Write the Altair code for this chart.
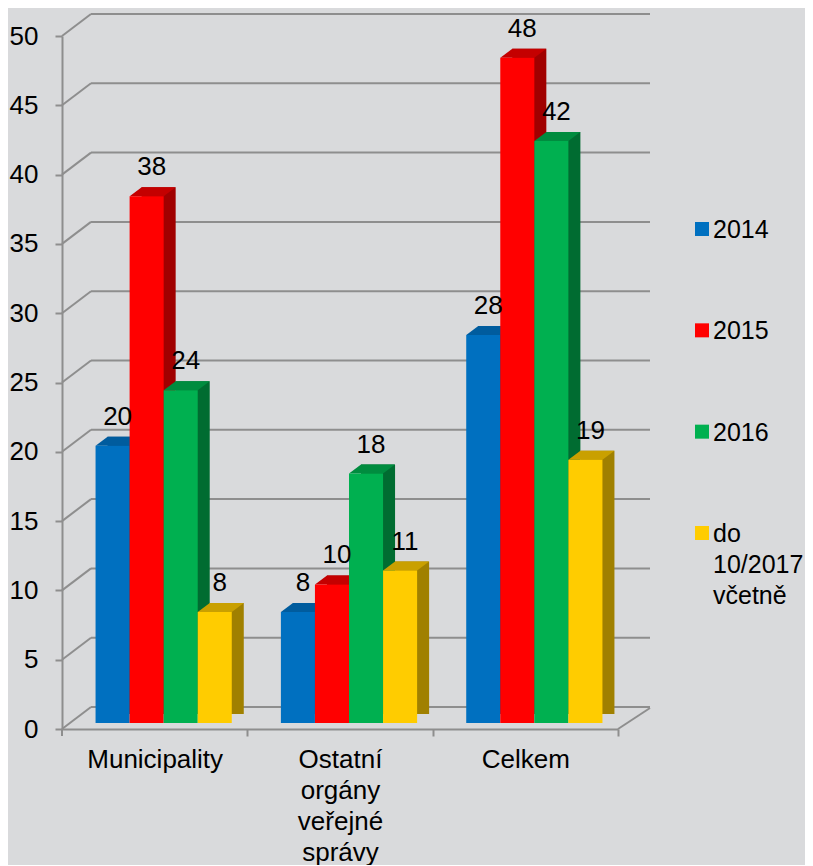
import altair as alt
import pandas as pd

# ---- data ----
categories = ["Municipality", "Ostatní orgány veřejné správy", "Celkem"]
series = ["2014", "2015", "2016", "do 10/2017 včetně"]
v2014 = [20, 8, 28]
v2015 = [38, 10, 48]
v2016 = [24, 18, 42]
v2017 = [8, 11, 19]
y_ticks = [0, 5, 10, 15, 20, 25, 30, 35, 40, 45, 50]

# ---- styles ----
front_colors = ["#0070c0", "#ff0000", "#00b050", "#ffcc00"]
top_colors = ["#005c9e", "#c40000", "#008c3f", "#c9a000"]
side_colors = ["#004b86", "#a00000", "#006c31", "#a08000"]
FONT = "Liberation Sans"
GRID = "#8e8e8e"
BG = "#d9dadc"
W, H = 556, 693
DX, DY = 29, -22   # depth of the walls
BX, BY = 9, -6     # bars sit a little back
SX, SY = 12, -9    # depth of each bar
P_IN, P_OUT = 0.265, 0.1325
STEP = W / 3
BAND = STEP * (1 - P_IN)   # width of one category group

rows = []
for s, vals in zip(series, [v2014, v2015, v2016, v2017]):
    for c, v in zip(categories, vals):
        rows.append({"category": c, "series": s, "value": v})
df = pd.DataFrame(rows)
grid_df = pd.DataFrame({"v": y_ticks})
legend_df = pd.DataFrame({"series": series})

y_scale = alt.Scale(domain=[0, 50])
x_scale = alt.Scale(paddingInner=P_IN, paddingOuter=P_OUT)


def xo_band(shift):
    return alt.XOffset("series:N", sort=series,
                       scale=alt.Scale(type="band", paddingInner=0, paddingOuter=0,
                                       range=[shift, shift + BAND]))


def xo_point(shift):
    return alt.XOffset("series:N", sort=series,
                       scale=alt.Scale(type="point", padding=0.5, range=[shift, shift + BAND]))


y_axis = alt.Axis(values=y_ticks, title=None, grid=False, labelFont=FONT, labelFontSize=26,
                  labelColor="black", labelPadding=17, tickSize=7, tickWidth=2, tickColor=GRID,
                  domainColor=GRID, domainWidth=2)
x_axis = alt.Axis(title=None, labelAngle=0, labelExpr="split(datum.label, ' ')", labelFont=FONT,
                  labelFontSize=26, labelColor="black", labelLineHeight=31, labelPadding=10,
                  tickOffset=STEP / 2, labelOffset=-STEP / 2, tickSize=7, tickWidth=2, tickColor=GRID,
                  domainColor=GRID, domainWidth=2, labelOverlap=False)

base_grid = alt.Chart(grid_df)

back_grid = base_grid.mark_rule(color=GRID, strokeWidth=2, yOffset=DY).encode(
    x=alt.value(DX), x2=alt.value(W + 32),
    y=alt.Y("v:Q", scale=y_scale, axis=y_axis),
)
left_wall = base_grid.mark_rule(color=GRID, strokeWidth=2, y2Offset=DY).encode(
    x=alt.value(0), x2=alt.value(DX),
    y=alt.Y("v:Q", scale=y_scale, axis=None),
    y2=alt.Y2("v"),
)
floor_right = base_grid.transform_filter("datum.v == 0").mark_rule(
    color=GRID, strokeWidth=2, y2Offset=-21).encode(
    x=alt.value(W), x2=alt.value(W + 32),
    y=alt.Y("v:Q", scale=y_scale, axis=None),
    y2=alt.Y2("v"),
)
corner_tick = base_grid.transform_filter("datum.v == 0").mark_rule(
    color=GRID, strokeWidth=2, y2Offset=7).encode(
    x=alt.value(0),
    y=alt.Y("v:Q", scale=y_scale, axis=None),
    y2=alt.Y2("v"),
)

base = alt.Chart(df)
side = base.mark_bar(yOffset=BY + SY, y2Offset=BY + SY).encode(
    x=alt.X("category:N", sort=categories, scale=x_scale, axis=x_axis),
    xOffset=xo_band(BX + SX),
    y=alt.Y("value:Q", scale=y_scale, axis=None),
    color=alt.Color("series:N", sort=series, scale=alt.Scale(domain=series, range=side_colors), legend=None),
)
top = base.mark_point(shape="M-17,0 L17,0 L29,-9 L-5,-9 Z", size=4, filled=True, opacity=1,
                      strokeWidth=0, yOffset=BY).encode(
    x=alt.X("category:N", sort=categories, scale=x_scale, axis=x_axis),
    xOffset=xo_point(BX),
    y=alt.Y("value:Q", scale=y_scale, axis=None),
    color=alt.Color("series:N", sort=series, scale=alt.Scale(domain=series, range=top_colors), legend=None),
)
front = base.mark_bar(yOffset=BY, y2Offset=BY).encode(
    x=alt.X("category:N", sort=categories, scale=x_scale, axis=x_axis),
    xOffset=xo_band(BX),
    y=alt.Y("value:Q", scale=y_scale, axis=None),
    color=alt.Color("series:N", sort=series, scale=alt.Scale(domain=series, range=front_colors), legend=None),
)
labels = base.mark_text(font=FONT, fontSize=26, color="black", baseline="alphabetic",
                        dx=5, dy=-27).encode(
    x=alt.X("category:N", sort=categories, scale=x_scale, axis=x_axis),
    xOffset=xo_point(BX),
    y=alt.Y("value:Q", scale=y_scale, axis=None),
    text=alt.Text("value:Q"),
)

leg_y = alt.Y("series:N", sort=series, scale=alt.Scale(type="point", range=[193, 497], padding=0), axis=None)
leg_sym = alt.Chart(legend_df).mark_point(shape="square", size=196, filled=True, opacity=1, strokeWidth=0).encode(
    x=alt.value(640), y=leg_y,
    color=alt.Color("series:N", sort=series, scale=alt.Scale(domain=series, range=front_colors), legend=None),
)
leg_txt = alt.Chart(legend_df).mark_text(font=FONT, fontSize=25, color="black", align="left",
                                         baseline="top", dy=-11, lineBreak=" ", lineHeight=31).encode(
    x=alt.value(651), y=leg_y, text="series:N",
)

chart = alt.layer(back_grid, left_wall, floor_right, corner_tick, side, top, front, labels,
                  leg_sym, leg_txt).resolve_scale(
    y="independent", color="independent", xOffset="independent"
).properties(
    width=W, height=H, background=BG,
    padding={"left": 1, "top": 5, "right": 1, "bottom": 0},
).configure_view(stroke=None)

chart.save("out.html", embed_options={"renderer": "svg", "actions": False})
